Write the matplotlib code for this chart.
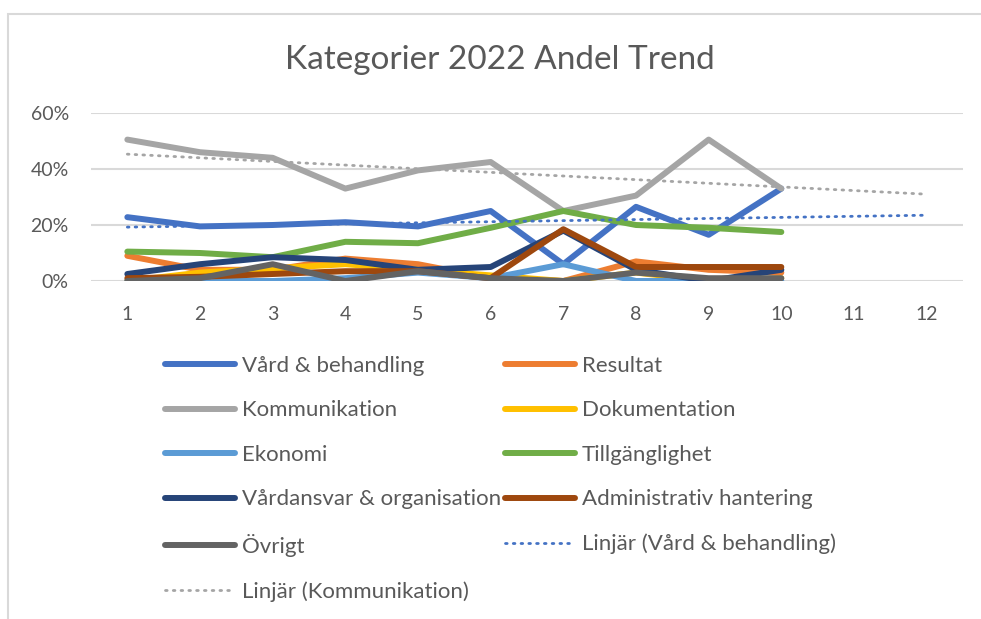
import matplotlib
matplotlib.use('Agg')
from matplotlib import pyplot as plt
from matplotlib.patches import Rectangle
from matplotlib.ticker import PercentFormatter
import numpy as np

plt.rcParams['font.family'] = ['Lato', 'DejaVu Sans']

# weeks / periods on the x axis
x = np.arange(1, 11)
x_trend = np.arange(1, 13)

# share per category (%)
vard = [22.8, 19.5, 20, 21, 19.5, 25, 6, 26.5, 16.5, 33]
resultat = [9, 4, 4, 8, 6, 1, 0, 7, 4, 3]
kommunikation = [50.5, 46, 44, 33, 39.5, 42.5, 25, 30.5, 50.5, 33]
dokumentation = [0, 3, 4.5, 6, 4, 2, 0, 3, 0, 1]
ekonomi = [0, 0, 0, 1, 3, 1, 6, 0, 0, 0]
tillganglighet = [10.5, 10, 8.5, 14, 13.5, 19, 25, 20, 19, 17.5]
vardansvar = [2.5, 6, 8.5, 7.5, 4, 5, 18, 4, 0, 4]
administrativ = [1, 1.5, 2.5, 3.5, 3.5, 1, 18.5, 5, 5, 5]
ovrigt = [0, 1, 6, 0, 3.5, 1, 0, 3, 1, 1]

series = [
    ('Vård & behandling', vard, '#4472C4'),
    ('Resultat', resultat, '#ED7D31'),
    ('Kommunikation', kommunikation, '#A5A5A5'),
    ('Dokumentation', dokumentation, '#FFC000'),
    ('Ekonomi', ekonomi, '#5B9BD5'),
    ('Tillgänglighet', tillganglighet, '#70AD47'),
    ('Vårdansvar & organisation', vardansvar, '#264478'),
    ('Administrativ hantering', administrativ, '#9E480E'),
    ('Övrigt', ovrigt, '#636363'),
]

txt = '#595959'
fig = plt.figure(figsize=(9.81, 6.19), dpi=100)
fig.patches.append(Rectangle((8 / 981, -0.1), 1.2, 1 - 14 / 619 + 0.1,
                             transform=fig.transFigure, fill=False,
                             edgecolor='#D9D9D9', linewidth=1.5))

ax = fig.add_axes([91 / 981, 1 - 281 / 619, 872 / 981, 168 / 619])

handles = []
for name, vals, col in series:
    h, = ax.plot(x, np.array(vals) / 100, color=col, lw=4.3,
                 solid_capstyle='round', solid_joinstyle='round', label=name)
    handles.append(h)

# linear trendlines, forecast two periods ahead
for vals, col, name in [(vard, '#4472C4', 'Linjär (Vård & behandling)'),
                        (kommunikation, '#A5A5A5', 'Linjär (Kommunikation)')]:
    k, m = np.polyfit(x, np.array(vals) / 100, 1)
    h, = ax.plot(x_trend, k * x_trend + m, color=col, lw=2,
                 linestyle=(0, (0.6, 2.2)), dash_capstyle='round', label=name)
    handles.append(h)

ax.set_xlim(0.5, 12.5)
ax.set_ylim(0, 0.6)
ax.set_xticks(x_trend)
ax.set_yticks([0, 0.2, 0.4, 0.6])
ax.yaxis.set_major_formatter(PercentFormatter(1.0, decimals=0))
ax.grid(axis='y', color='#D9D9D9', lw=1.5)
ax.set_axisbelow(True)
for s in ax.spines.values():
    s.set_visible(False)
ax.tick_params(length=0, labelsize=14, colors=txt)
ax.tick_params(axis='x', pad=18)
ax.tick_params(axis='y', pad=16)

fig.text(500 / 981, 1 - 60 / 619, 'Kategorier 2022 Andel Trend',
         ha='center', va='center', fontsize=24, color=txt)

col1 = handles[0::2]
col2 = handles[1::2]
leg_kw = dict(loc='upper left', frameon=False, fontsize=16, handlelength=3.15,
              handletextpad=0.3, labelspacing=1.1, borderpad=0,
              borderaxespad=0, labelcolor=txt)
leg1 = fig.legend(handles=col1, bbox_to_anchor=(165 / 981, 1 - 356 / 619), **leg_kw)
leg2 = fig.legend(handles=col2, bbox_to_anchor=(505 / 981, 1 - 356 / 619), **leg_kw)

fig.savefig('out.png', dpi=100)
